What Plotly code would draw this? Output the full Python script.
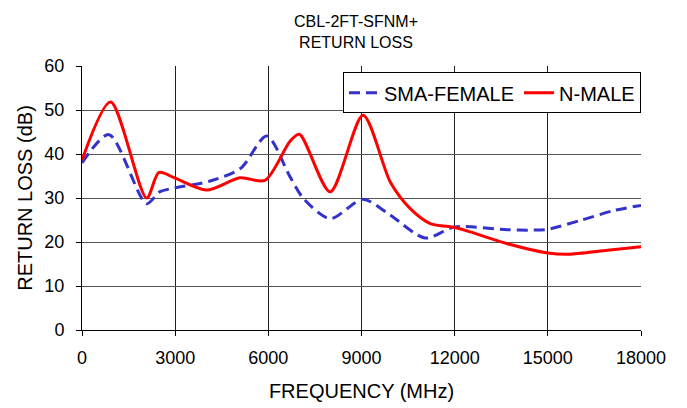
import plotly.graph_objects as go

sma_freq = [0, 870, 2080, 2500, 3000, 4100, 5100, 5950, 6700, 7130, 7990, 9050, 9930, 11050, 12000, 13700, 14550, 15000, 16050, 17150, 18000]
sma_rl = [38.0, 44.4, 28.7, 31.4, 32.3, 33.8, 36.7, 44.1, 34.8, 29.9, 25.3, 29.7, 26.1, 20.9, 23.4, 22.8, 22.7, 22.9, 24.9, 27.2, 28.3]

nm_freq = [0, 920, 2080, 2480, 3000, 4010, 5090, 5890, 6700, 7000, 7990, 9050, 9930, 10570, 11220, 12000, 12500, 13700, 15000, 15630, 16920, 18000]
nm_rl = [38.6, 51.8, 30.0, 35.8, 34.5, 31.8, 34.6, 34.0, 42.9, 44.5, 31.4, 48.8, 33.6, 27.6, 24.2, 23.3, 22.3, 19.6, 17.5, 17.2, 18.1, 18.9]

x_ticks = [0, 3000, 6000, 9000, 12000, 15000, 18000]
y_ticks = [0, 10, 20, 30, 40, 50, 60]

font = "Liberation Sans, Arial, sans-serif"

fig = go.Figure()
fig.add_trace(go.Scatter(x=sma_freq, y=sma_rl, name="SMA-FEMALE", mode="lines",
                         line=dict(color="#3333CC", width=3, dash="11px,6px", shape="spline", smoothing=0.8)))
fig.add_trace(go.Scatter(x=nm_freq, y=nm_rl, name="N-MALE", mode="lines",
                         line=dict(color="#FF0000", width=3, shape="spline", smoothing=0.8)))

fig.update_layout(
    width=679, height=400,
    margin=dict(l=74, r=46, t=58, b=78),
    paper_bgcolor="white", plot_bgcolor="white",
    font=dict(family=font, size=18, color="black"),
    title=dict(text="CBL-2FT-SFNM+<br>RETURN LOSS", x=0.5125, xanchor="center",
               yref="container", y=0.953, yanchor="top", font=dict(size=16)),
    showlegend=True,
    legend=dict(orientation="h", x=1.0, xanchor="right", y=0.976, yanchor="top",
                bgcolor="white", bordercolor="black", borderwidth=1,
                font=dict(size=20), itemwidth=30, tracegroupgap=0),
    xaxis=dict(range=[0, 18000], tickvals=x_ticks, ticktext=[str(v) for v in x_ticks],
               automargin=False,
               showgrid=True, gridcolor="#222222", gridwidth=1,
               showline=True, linecolor="black", linewidth=1,
               ticks="outside", ticklen=5, tickcolor="black", ticklabelstandoff=6,
               title=dict(text="FREQUENCY (MHz)", standoff=17, font=dict(size=20)),
               zeroline=False),
    yaxis=dict(range=[0, 60], tickvals=y_ticks,
               automargin=False,
               showgrid=True, gridcolor="#555555", gridwidth=1,
               showline=True, linecolor="black", linewidth=1,
               ticks="outside", ticklen=5, tickcolor="black", ticklabelstandoff=8,
               title=dict(text="RETURN LOSS (dB)", standoff=6, font=dict(size=20)),
               zeroline=False),
)

fig.write_html("out.html")
